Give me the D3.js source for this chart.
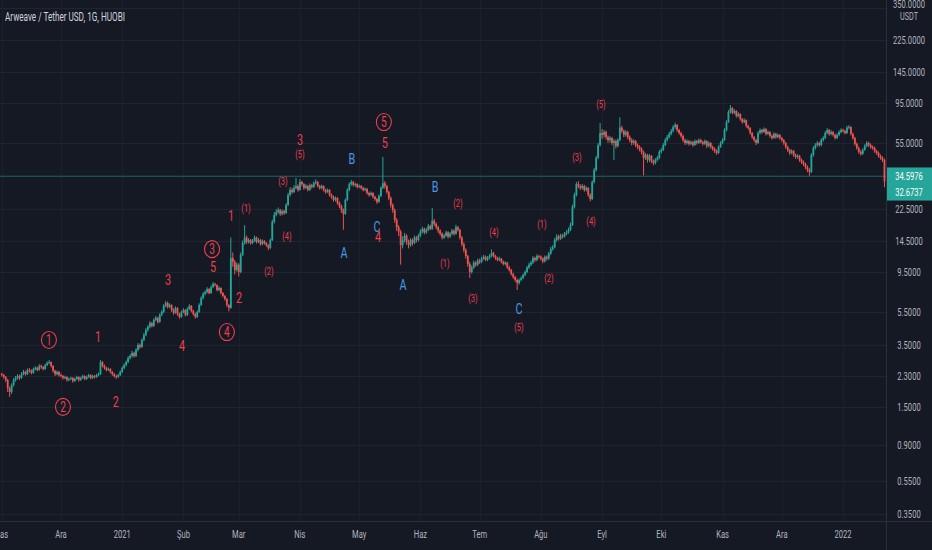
<!DOCTYPE html>
<html><head><meta charset="utf-8">
<script src="https://cdn.jsdelivr.net/npm/d3@7"></script>
<style>html,body{margin:0;padding:0;background:#151924;overflow:hidden}svg{display:block}</style>
</head><body><svg id="c" width="932" height="550"></svg>
<script>
// ---- data (daily candles, AR/USDT, from 1 Nov 2020) ----
const startDay = Date.UTC(2020, 10, 1);
const firstOpen = 2.36;
const closes = [
2.33,2.27,2.18,1.95,1.85,2.03,2.18,2.24,2.30,2.24,2.36,2.43,2.36,2.50,2.47,2.40,2.53,2.57,2.50,2.64,2.60,2.53,2.67,2.74,2.78,2.64,2.47,2.36,2.43,2.33,
2.30,2.24,2.27,2.18,2.21,2.24,2.15,2.21,2.27,2.18,2.24,2.30,2.21,2.27,2.33,2.24,2.30,2.27,2.33,2.36,2.78,2.64,2.57,2.50,2.53,2.43,2.36,2.30,2.27,2.33,2.43,
2.57,2.67,2.78,2.94,3.02,3.15,3.02,3.28,3.51,3.42,3.76,4.03,4.31,4.49,4.74,4.55,4.94,5.08,4.81,5.29,5.51,5.98,6.23,5.90,6.06,5.66,5.44,5.82,5.36,5.15,5.51,
5.66,5.29,5.74,5.98,5.59,5.36,5.15,5.51,6.06,6.67,7.04,7.23,7.53,7.13,7.74,8.07,7.96,7.43,7.64,7.13,6.85,6.58,6.06,5.82,11.5,10.9,9.76,10.5,
9.49,12.0,14.1,15.2,14.3,14.7,14.1,14.5,15.2,14.3,14.7,13.9,14.5,14.1,13.7,13.2,14.7,18.8,20.7,21.5,22.1,21.0,21.8,21.2,23.7,27.2,29.1,28.3,29.9,30.7,29.1,
32.4,31.5,29.9,30.7,29.1,31.1,30.3,31.9,32.4,30.7,29.9,30.7,29.1,28.3,29.1,27.2,26.5,25.4,26.1,24.4,23.4,22.1,21.0,25.4,29.1,31.5,32.4,31.1,31.5,30.3,
30.7,29.9,29.1,29.5,27.9,27.2,27.9,26.5,25.7,24.7,26.8,29.9,31.9,30.7,28.3,26.1,23.7,22.1,19.3,17.5,16.5,13.7,14.7,15.6,14.3,13.7,14.7,14.1,15.2,14.7,15.6,
16.5,17.1,16.3,16.9,17.8,17.1,19.1,18.3,17.5,16.7,16.0,15.2,15.6,16.3,15.4,16.0,16.7,16.0,17.5,16.9,15.2,13.9,12.8,11.8,10.6,9.49,10.1,10.8,10.5,11.1,
10.9,11.4,11.7,11.2,11.5,11.8,12.3,11.8,11.5,11.2,11.4,10.9,10.6,10.8,10.1,9.76,9.24,8.87,8.52,8.18,8.52,8.75,9.12,9.49,10.1,10.5,10.8,11.5,11.2,11.8,11.7,
11.4,11.0,11.7,11.4,12.2,13.0,13.3,14.7,15.4,15.0,15.6,15.4,16.0,16.3,16.9,18.05,23.1,27.2,31.5,30.7,29.9,30.7,29.1,29.9,27.2,25.7,32.4,38.2,45.1,53.7,63.3,
61.6,64.1,59.9,57.5,59.1,55.2,56.7,52.9,57.5,68.1,65.0,61.6,64.1,59.9,57.5,55.2,56.7,53.7,52.3,50.9,48.9,45.1,46.9,43.8,46.3,43.2,42.0,43.8,45.1,48.9,
50.2,53.7,57.5,59.9,62.5,65.0,68.6,70.6,65.9,63.3,60.8,57.5,55.2,56.7,54.5,55.9,53.7,56.7,55.2,57.5,55.9,54.5,56.7,52.9,55.2,52.3,50.9,49.5,48.2,52.3,55.2,
57.5,65.9,73.5,84.3,89.0,83.2,85.4,79.8,82.0,76.5,73.5,75.5,69.7,67.7,63.3,59.9,57.5,55.2,63.3,65.9,64.1,66.8,62.5,64.1,60.8,59.1,62.5,59.9,61.6,59.1,
57.5,55.2,52.3,50.2,48.2,49.5,46.9,45.6,46.3,43.8,42.6,41.5,39.8,38.2,37.2,46.9,51.6,53.7,55.2,53.7,57.5,59.1,63.3,65.9,62.5,64.1,61.6,59.1,61.6,64.1,65.9,
65.0,63.3,68.1,68.6,62.5,59.1,54.5,51.6,48.9,47.6,50.2,52.9,55.2,53.7,52.3,51.6,49.5,48.2,46.3,45.1,43.8,32.67
];
const highs = [
2.40,2.37,2.30,2.21,1.99,2.08,2.24,2.30,2.36,2.34,2.42,2.50,2.47,2.55,2.56,2.52,2.58,2.63,2.61,2.70,2.69,2.63,2.72,2.81,2.86,2.80,2.66,2.50,2.48,2.46,
2.38,2.33,2.31,2.29,2.25,2.28,2.26,2.25,2.31,2.29,2.28,2.34,2.32,2.31,2.37,2.35,2.34,2.33,2.37,2.41,2.86,2.82,2.69,2.61,2.58,2.56,2.46,2.39,2.33,2.37,2.48,
2.62,2.73,2.84,3.01,3.10,3.24,3.20,3.36,3.60,3.58,3.85,4.14,4.42,4.60,4.86,4.82,5.05,5.22,5.15,5.40,5.65,6.12,6.40,6.35,6.20,6.12,5.80,5.95,5.88,5.45,5.62,
5.80,5.72,5.86,6.12,6.05,5.68,5.45,5.62,6.20,6.82,7.22,7.40,7.72,7.62,7.92,8.28,8.20,8.02,7.82,7.72,7.22,6.95,6.65,6.12,15.2,12.4,11.2,10.8,
10.7,12.4,14.6,18.0,15.6,15.1,14.9,14.9,15.6,15.4,15.1,14.9,14.8,14.7,14.3,13.9,15.0,19.4,21.5,22.4,22.9,22.5,22.3,22.2,24.3,28.0,30.2,30.0,31.0,34.3,31.4,
33.8,33.0,31.9,31.5,31.2,31.8,31.6,32.7,33.6,32.9,31.2,31.3,31.0,29.6,29.7,29.4,27.7,26.9,26.6,26.4,24.9,23.8,22.6,25.9,29.8,32.2,33.3,32.9,32.1,31.9,
31.4,31.1,30.4,30.1,29.9,28.4,28.5,28.2,26.9,26.1,27.4,30.6,45.6,32.8,31.2,28.8,26.6,24.2,22.6,19.8,18.0,16.9,15.5,16.2,15.9,14.8,15.1,15.0,15.6,15.5,16.0,
17.0,17.6,17.4,17.3,18.3,18.1,22.7,19.6,18.7,17.8,17.0,16.3,16.0,16.7,16.6,16.4,17.1,17.0,18.1,17.8,17.1,15.5,14.2,13.1,12.0,10.9,10.4,11.1,11.0,11.4,
11.4,11.7,12.0,11.9,11.8,12.1,12.9,12.5,12.0,11.7,11.7,11.5,11.1,11.0,10.9,10.3,9.90,9.40,9.00,8.70,8.70,8.95,9.30,9.70,10.3,10.8,11.1,11.8,11.7,12.1,12.0,
11.9,11.6,11.9,11.9,12.5,13.4,13.7,15.1,15.9,15.8,16.0,16.0,16.4,16.8,17.4,18.6,23.8,28.0,32.4,32.8,31.4,31.5,31.2,30.6,30.2,27.8,33.2,39.3,46.4,55.2,72.5,
66.8,66.0,65.4,61.2,60.7,60.0,58.2,57.9,58.9,78.4,69.8,66.4,65.8,65.2,61.2,58.8,58.1,57.5,54.9,53.5,52.0,49.8,48.1,47.6,47.5,46.8,44.1,44.9,46.3,50.2,
51.6,55.1,59.0,61.5,64.2,66.8,70.4,72.8,71.5,67.0,64.4,61.9,58.6,58.0,57.6,57.1,56.8,58.0,57.6,58.8,58.4,56.9,57.9,57.3,56.4,55.9,53.3,52.0,50.6,53.5,56.5,
58.9,67.5,75.3,86.4,92.7,90.1,87.6,86.3,83.9,82.8,77.6,77.2,76.1,70.8,68.5,64.1,60.8,58.4,64.8,67.4,66.9,68.3,67.6,65.5,64.9,62.0,63.9,63.4,62.9,62.5,
60.0,58.3,56.0,53.1,51.0,50.7,50.2,47.8,47.4,46.9,44.7,43.5,42.2,40.6,39.1,48.1,52.9,55.1,56.6,56.1,58.9,60.6,64.9,67.6,66.8,65.7,65.0,62.6,63.1,65.7,67.5,
67.2,66.1,69.8,70.5,69.4,63.6,60.1,55.6,52.6,50.0,51.4,54.2,56.6,56.2,54.8,53.4,52.5,50.4,49.1,47.2,46.0,44.5
];
const lows = [
2.28,2.22,2.12,1.85,1.73,1.80,1.99,2.13,2.19,2.18,2.21,2.32,2.31,2.33,2.41,2.35,2.37,2.48,2.45,2.47,2.54,2.48,2.50,2.63,2.70,2.58,2.41,2.30,2.32,2.28,
2.25,2.19,2.20,2.13,2.14,2.17,2.10,2.12,2.18,2.13,2.15,2.21,2.17,2.18,2.24,2.20,2.21,2.22,2.24,2.29,2.33,2.59,2.51,2.45,2.46,2.38,2.31,2.25,2.21,2.24,2.30,
2.40,2.52,2.62,2.74,2.88,2.96,2.95,2.98,3.22,3.33,3.38,3.70,3.95,4.22,4.41,4.46,4.48,4.86,4.70,4.75,5.20,5.42,5.88,5.78,5.80,5.52,5.30,5.38,5.22,5.02,5.08,
5.42,5.18,5.22,5.66,5.48,5.24,5.02,5.08,5.45,5.98,6.55,6.92,7.10,7.00,7.05,7.62,7.80,7.30,7.30,6.98,6.70,6.42,5.90,5.55,5.75,10.2,9.20,9.55,
8.95,9.35,11.8,13.8,13.9,14.0,13.8,13.9,14.3,14.0,14.1,13.6,13.7,13.8,13.4,12.8,13.0,14.5,18.4,20.3,21.0,20.4,20.6,20.7,21.0,23.4,26.6,27.5,27.9,29.4,28.4,
28.8,30.6,29.1,29.5,28.5,28.7,29.6,29.9,31.3,30.1,29.2,29.4,28.5,27.6,27.9,26.6,25.8,24.8,24.9,23.8,22.7,21.3,16.9,20.7,25.0,28.6,30.8,30.5,30.4,29.7,
29.8,29.3,28.5,28.6,27.3,26.5,26.8,25.9,25.1,24.0,24.4,26.4,29.5,29.6,27.6,25.3,22.9,21.3,18.6,16.6,15.5,10.5,13.1,14.2,13.8,13.1,13.4,13.6,13.9,14.2,14.4,
15.3,16.1,15.9,16.0,16.6,16.8,16.9,17.8,17.0,16.2,15.6,14.8,14.9,15.3,15.0,15.1,15.7,15.6,15.8,16.5,14.8,13.5,12.4,11.4,10.2,8.75,9.30,9.90,10.2,10.3,
10.6,10.7,11.2,11.0,11.0,11.3,11.6,11.6,11.2,11.0,11.0,10.7,10.4,10.4,9.90,9.55,9.05,8.65,8.30,7.43,8.00,8.35,8.60,8.95,9.35,9.90,10.3,10.6,10.9,11.0,11.4,
11.1,10.7,10.8,11.1,11.2,12.0,12.7,13.1,14.4,14.6,14.7,15.0,15.2,15.7,16.0,16.6,17.8,22.6,26.6,29.8,29.0,29.3,28.4,28.5,26.5,24.9,25.4,31.8,37.4,44.3,52.6,
58.2,59.5,57.8,55.4,55.6,53.6,43.8,51.2,52.0,56.5,63.2,59.8,60.2,58.1,55.8,53.4,53.9,52.1,50.6,49.2,47.3,35.5,43.9,42.3,42.6,41.9,40.7,41.2,43.0,44.2,
47.9,49.5,52.8,56.4,58.7,61.3,63.8,67.0,64.2,61.8,59.2,56.0,53.7,54.1,53.2,53.6,52.3,53.1,54.0,54.6,54.7,53.3,53.8,51.6,52.1,51.0,49.7,48.2,46.9,47.6,51.6,
54.3,56.9,64.8,72.5,82.6,81.5,81.9,78.0,78.5,74.8,71.8,72.4,68.1,66.0,61.8,58.4,56.0,53.7,54.6,62.1,62.7,63.4,61.1,61.6,59.4,57.8,58.4,58.5,58.9,57.8,
56.1,53.9,51.0,48.9,46.9,47.3,45.7,44.4,44.6,42.7,41.5,40.4,38.7,37.1,35.3,36.6,45.8,50.4,52.5,52.4,52.8,56.3,58.2,62.1,61.0,61.3,60.2,57.8,58.3,60.5,63.0,
63.6,62.0,62.4,66.5,61.1,57.8,53.2,50.3,47.7,46.4,46.9,49.6,52.0,52.4,51.0,50.4,48.3,47.0,45.2,44.0,42.6,30.2
];
const priceTicks = [350,225,145,95,55,22.5,14.5,9.5,5.5,3.5,2.3,1.5,0.9,0.55,0.35];
const monthTicks = [[2020,10],[2020,11],[2021,0],[2021,1],[2021,2],[2021,3],[2021,4],[2021,5],[2021,6],[2021,7],[2021,8],[2021,9],[2021,10],[2021,11],[2022,0]];
const monthLabels = ["Kas","Ara","2021","Şub","Mar","Nis","May","Haz","Tem","Ağu","Eyl","Eki","Kas","Ara","2022"];
const levelPrice = 34.5976;
const lastPrice = 32.6737;
const title = "Arweave / Tether USD, 1G, HUOBI";
// Elliott wave annotations (day offset from start, price level)
const waveText  = ["1","2","1","2","3","4","3","5","4","2","1","(1)","(2)","(4)","(3)","3","(5)","5","5","B","A","C","4","A","B","(2)","(1)","(4)","(3)","C","(5)","(1)","(2)","(3)","(4)","(5)"];
const waveKind  = ["circle","circle","big","big","big","big","circle","big","circle","big","big","small","small","small","small","big","small","circle","big","blue","blue","blue","big","blue","blue","small","small","small","small","blue","small","small","small","small","small","small"];
const waveDay   = [23.9,31,48.7,57.8,84.2,91.3,106.5,107,114,120.1,116.1,123.7,135.3,144.4,142.4,151,151,193.5,194,177.3,173.3,190,190.5,203.2,219.4,231,224.4,249.2,238.6,261.9,261.9,273.5,277.1,291.3,298.4,303.4];
const wavePrice = [3.76,1.51,3.92,1.61,8.52,3.46,12.97,10.2,4.19,6.67,20.4,22.7,9.49,15.4,32.4,57.5,46.9,73.5,55.2,44.4,12.3,17.5,15.4,7.96,30.3,24.1,10.6,16.3,6.58,5.74,4.43,18.05,8.64,45.1,18.8,92.7];

// ---- layout ----
const W = 932, H = 550, plotR = 886, plotB = 521;
const UP = "#26a69a", DOWN = "#ef5350", RED = "#ee3f4d", BLUE = "#4a97e8";
const FONT = "Roboto, 'Noto Sans', 'Liberation Sans', sans-serif";
const SX = 0.66; // horizontal squeeze of glyphs

const svg = d3.select("#c");
svg.append("rect").attr("width", W).attr("height", H).attr("fill", "#151924");

const dayMs = 864e5;
const x = d3.scaleUtc().domain([Date.UTC(2020,10,1), Date.UTC(2022,0,1)]).range([1.75, 843]);
const y = d3.scaleLog().domain([0.35, 350]).range([514, 7.6]);
const dateOf = d => new Date(startDay + d * dayMs);

const candles = closes.map((c, i) => ({
  i, c, h: highs[i], l: lows[i], o: i === 0 ? firstOpen : closes[i - 1]
}));

function sText(g, tx, ty, str, opts) {
  const t = g.append("text")
    .attr("transform", `translate(${tx},${ty}) scale(${opts.sx || SX},1)`)
    .attr("text-anchor", opts.anchor || "middle")
    .attr("dominant-baseline", opts.base || "central")
    .attr("font-family", FONT)
    .attr("font-size", opts.size || 11)
    .attr("fill", opts.fill || "#b2b5be")
    .text(str);
  if (opts.weight) t.attr("font-weight", opts.weight);
  return t;
}

// grid
const grid = svg.append("g");
grid.selectAll("line.h").data(priceTicks).enter().append("line")
  .attr("x1", 0).attr("x2", plotR).attr("y1", d => Math.round(y(d)) + 0.5).attr("y2", d => Math.round(y(d)) + 0.5)
  .attr("stroke", "#1f2431").attr("stroke-width", 1);
grid.selectAll("line.v").data(monthTicks).enter().append("line")
  .attr("y1", 0).attr("y2", plotB).attr("x1", d => Math.round(x(Date.UTC(d[0], d[1], 1))) + 0.5).attr("x2", d => Math.round(x(Date.UTC(d[0], d[1], 1))) + 0.5)
  .attr("stroke", "#1c202c").attr("stroke-width", 1);

// plot group with clip
svg.append("clipPath").attr("id", "pc").append("rect").attr("x", 0).attr("y", 0).attr("width", plotR).attr("height", plotB);
const plot = svg.append("g").attr("clip-path", "url(#pc)");

// level line
plot.append("line").attr("x1", 0).attr("x2", plotR)
  .attr("y1", y(levelPrice) - 1).attr("y2", y(levelPrice) - 1)
  .attr("stroke", "#26a69a").attr("stroke-opacity", 0.55).attr("stroke-width", 1);

// candles
const cg = plot.append("g");
cg.selectAll("line.w").data(candles).enter().append("line")
  .attr("x1", d => x(dateOf(d.i))).attr("x2", d => x(dateOf(d.i)))
  .attr("y1", d => y(d.h)).attr("y2", d => y(d.l))
  .attr("stroke", d => d.c >= d.o ? UP : DOWN).attr("stroke-width", 1);
cg.selectAll("rect").data(candles).enter().append("rect")
  .attr("x", d => x(dateOf(d.i)) - 0.9).attr("width", 1.8)
  .attr("y", d => y(Math.max(d.o, d.c)))
  .attr("height", d => Math.max(0.9, Math.abs(y(d.o) - y(d.c))))
  .attr("fill", d => d.c >= d.o ? UP : DOWN);

// wave labels
const wg = plot.append("g");
waveText.forEach((t, k) => {
  const px = x(dateOf(waveDay[k])), py = y(wavePrice[k]);
  const kind = waveKind[k];
  if (kind === "circle") {
    wg.append("ellipse").attr("cx", px).attr("cy", py).attr("rx", 7.5).attr("ry", 8.5)
      .attr("fill", "none").attr("stroke", RED).attr("stroke-width", 1.1);
    sText(wg, px, py + 0.5, t, {size: 14, fill: RED, sx: 0.72});
  } else if (kind === "big") {
    sText(wg, px, py, t, {size: 15, fill: RED, sx: 0.72});
  } else if (kind === "blue") {
    sText(wg, px, py, t, {size: 15, fill: BLUE, sx: 0.72});
  } else {
    sText(wg, px, py, t, {size: 10, fill: RED, sx: 0.75});
  }
});

// title
sText(svg, 5, 17, title, {size: 12, fill: "#d1d4dc", anchor: "start", sx: 0.68});

// axes separators
svg.append("line").attr("x1", plotR + 0.5).attr("x2", plotR + 0.5).attr("y1", 0).attr("y2", H).attr("stroke", "#2a2e39");
svg.append("line").attr("x1", 0).attr("x2", W).attr("y1", plotB + 0.5).attr("y2", plotB + 0.5).attr("stroke", "#2a2e39");

// right axis labels
const fmt = d3.format(".4f");
const ag = svg.append("g");
priceTicks.forEach(v => {
  const py = v === 350 ? 4 : y(v);
  sText(ag, 909, py, fmt(v), {size: 11.5, fill: "#b2b5be"});
});
sText(ag, 909, 16, "USDT", {size: 11, fill: "#b2b5be"});

// price boxes
const ly = y(levelPrice);
const boxes = [{v: levelPrice, cy: ly - 1.5}, {v: lastPrice, cy: ly + 15}];
boxes.forEach(b => {
  ag.append("rect").attr("x", plotR + 1).attr("y", b.cy - 8.3).attr("width", W - plotR - 1).attr("height", 16.6).attr("fill", "#26a69a");
  sText(ag, 909, b.cy, fmt(b.v), {size: 11.5, fill: "#ffffff"});
});

// bottom axis labels
const bg = svg.append("g");
monthTicks.forEach((m, k) => {
  sText(bg, x(Date.UTC(m[0], m[1], 1)), 534, monthLabels[k], {size: 11.5, fill: "#b2b5be"});
});
</script>
</body></html>
